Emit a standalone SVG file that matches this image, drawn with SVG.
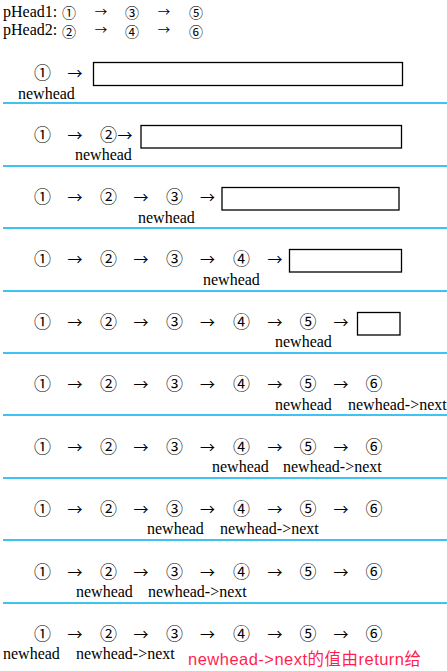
<svg xmlns="http://www.w3.org/2000/svg" width="447" height="671" viewBox="0 0 447 671">
<style>
.t{font-family:"Liberation Serif","DejaVu Serif",serif;font-size:16px;fill:#000}
.n{font-family:"Noto Sans CJK SC","DejaVu Sans",sans-serif;font-size:17px;fill:#000;text-anchor:middle}
.ns{font-family:"Noto Sans CJK SC","DejaVu Sans",sans-serif;font-size:14px;fill:#000;text-anchor:middle}
.a{font-family:"Noto Sans CJK SC",sans-serif;font-size:15px;fill:#000;text-anchor:middle}
.ah{font-family:"Noto Sans CJK SC",sans-serif;font-size:12.5px;fill:#000;text-anchor:middle}
.sep{stroke:#00AEEF;stroke-width:1.5}
.box{fill:#fff;stroke:#000;stroke-width:1.3}
.red{font-family:"Liberation Sans","Noto Sans CJK SC",sans-serif;font-size:16.5px;fill:#FF1F4F}
</style>
<rect width="447" height="671" fill="#fff"/>
<g id="header">
<text class="t" x="3" y="17">pHead1:</text>
<text class="t" x="3" y="35">pHead2:</text>
<text class="ns" x="69" y="18">①</text><text class="ah" x="101" y="17">→</text><text class="ns" x="132" y="18">③</text><text class="ah" x="164" y="17">→</text><text class="ns" x="196" y="18">⑤</text>
<text class="ns" x="69" y="37">②</text><text class="ah" x="101" y="35">→</text><text class="ns" x="132" y="37">④</text><text class="ah" x="164" y="35">→</text><text class="ns" x="196" y="37">⑥</text>
</g>
<g id="separators">
<line class="sep" x1="3" y1="103" x2="447" y2="103"/>
<line class="sep" x1="3" y1="166" x2="447" y2="166"/>
<line class="sep" x1="3" y1="228" x2="447" y2="228"/>
<line class="sep" x1="3" y1="291" x2="447" y2="291"/>
<line class="sep" x1="3" y1="353" x2="447" y2="353"/>
<line class="sep" x1="3" y1="415" x2="447" y2="415"/>
<line class="sep" x1="3" y1="478" x2="447" y2="478"/>
<line class="sep" x1="3" y1="540" x2="447" y2="540"/>
<line class="sep" x1="3" y1="603" x2="447" y2="603"/>
</g>
<g id="row1">
<g id="r1n1"><text class="n" x="42.5" y="79">①</text></g>
<g id="r1box"><rect class="box" x="93.5" y="62.5" width="309" height="23"/></g>
<g id="r1conn"><text class="a" x="75" y="79">→</text></g>
<text class="t" x="18" y="99">newhead</text>
</g>
<g id="row2">
<g id="r2n1"><text class="n" x="42.5" y="141">①</text></g>
<g id="r2n2"><text class="n" x="108.5" y="141">②</text></g>
<g id="r2box"><rect class="box" x="141" y="125.5" width="260.5" height="22.5"/></g>
<g id="r2conn"><text class="a" x="75" y="141">→</text><text class="a" x="125" y="141">→</text></g>
<text class="t" x="75" y="160">newhead</text>
</g>
<g id="row3">
<g id="r3n1"><text class="n" x="42.5" y="203">①</text></g>
<g id="r3n2"><text class="n" x="108.5" y="203">②</text></g>
<g id="r3n3"><text class="n" x="174.5" y="203">③</text></g>
<g id="r3box"><rect class="box" x="222" y="187.5" width="177" height="22.5"/></g>
<g id="r3conn"><text class="a" x="75" y="203">→</text><text class="a" x="141" y="203">→</text><text class="a" x="207.5" y="203">→</text></g>
<text class="t" x="138" y="223">newhead</text>
</g>
<g id="row4">
<g id="r4n1"><text class="n" x="42.5" y="265">①</text></g>
<g id="r4n2"><text class="n" x="108.5" y="265">②</text></g>
<g id="r4n3"><text class="n" x="174.5" y="265">③</text></g>
<g id="r4n4"><text class="n" x="241.5" y="265">④</text></g>
<g id="r4box"><rect class="box" x="289.5" y="249.5" width="112" height="22.5"/></g>
<g id="r4conn"><text class="a" x="75" y="265">→</text><text class="a" x="141" y="265">→</text><text class="a" x="207.5" y="265">→</text><text class="a" x="275" y="265">→</text></g>
<text class="t" x="203" y="285">newhead</text>
</g>
<g id="row5">
<g id="r5n1"><text class="n" x="42.5" y="328">①</text></g>
<g id="r5n2"><text class="n" x="108.5" y="328">②</text></g>
<g id="r5n3"><text class="n" x="174.5" y="328">③</text></g>
<g id="r5n4"><text class="n" x="241.5" y="328">④</text></g>
<g id="r5n5"><text class="n" x="308" y="328">⑤</text></g>
<g id="r5box"><rect class="box" x="357.5" y="312.5" width="42.5" height="22.5"/></g>
<g id="r5conn"><text class="a" x="75" y="328">→</text><text class="a" x="141" y="328">→</text><text class="a" x="207.5" y="328">→</text><text class="a" x="275" y="328">→</text><text class="a" x="341" y="328">→</text></g>
<text class="t" x="275" y="347">newhead</text>
</g>
<g id="row6">
<g id="r6n1"><text class="n" x="42.5" y="390">①</text></g>
<g id="r6n2"><text class="n" x="108.5" y="390">②</text></g>
<g id="r6n3"><text class="n" x="174.5" y="390">③</text></g>
<g id="r6n4"><text class="n" x="241.5" y="390">④</text></g>
<g id="r6n5"><text class="n" x="308" y="390">⑤</text></g>
<g id="r6n6"><text class="n" x="374" y="390">⑥</text></g>
<g id="r6conn"><text class="a" x="75" y="390">→</text><text class="a" x="141" y="390">→</text><text class="a" x="207.5" y="390">→</text><text class="a" x="275" y="390">→</text><text class="a" x="341" y="390">→</text></g>
<text class="t" x="275" y="410">newhead</text>
<text class="t" x="348" y="410">newhead-&gt;next</text>
</g>
<g id="row7">
<g id="r7n1"><text class="n" x="42.5" y="453">①</text></g>
<g id="r7n2"><text class="n" x="108.5" y="453">②</text></g>
<g id="r7n3"><text class="n" x="174.5" y="453">③</text></g>
<g id="r7n4"><text class="n" x="241.5" y="453">④</text></g>
<g id="r7n5"><text class="n" x="308" y="453">⑤</text></g>
<g id="r7n6"><text class="n" x="374" y="453">⑥</text></g>
<g id="r7conn"><text class="a" x="75" y="453">→</text><text class="a" x="141" y="453">→</text><text class="a" x="207.5" y="453">→</text><text class="a" x="275" y="453">→</text><text class="a" x="341" y="453">→</text></g>
<text class="t" x="212" y="472">newhead</text>
<text class="t" x="283" y="472">newhead-&gt;next</text>
</g>
<g id="row8">
<g id="r8n1"><text class="n" x="42.5" y="515">①</text></g>
<g id="r8n2"><text class="n" x="108.5" y="515">②</text></g>
<g id="r8n3"><text class="n" x="174.5" y="515">③</text></g>
<g id="r8n4"><text class="n" x="241.5" y="515">④</text></g>
<g id="r8n5"><text class="n" x="308" y="515">⑤</text></g>
<g id="r8n6"><text class="n" x="374" y="515">⑥</text></g>
<g id="r8conn"><text class="a" x="75" y="515">→</text><text class="a" x="141" y="515">→</text><text class="a" x="207.5" y="515">→</text><text class="a" x="275" y="515">→</text><text class="a" x="341" y="515">→</text></g>
<text class="t" x="147" y="534">newhead</text>
<text class="t" x="220" y="534">newhead-&gt;next</text>
</g>
<g id="row9">
<g id="r9n1"><text class="n" x="42.5" y="578">①</text></g>
<g id="r9n2"><text class="n" x="108.5" y="578">②</text></g>
<g id="r9n3"><text class="n" x="174.5" y="578">③</text></g>
<g id="r9n4"><text class="n" x="241.5" y="578">④</text></g>
<g id="r9n5"><text class="n" x="308" y="578">⑤</text></g>
<g id="r9n6"><text class="n" x="374" y="578">⑥</text></g>
<g id="r9conn"><text class="a" x="75" y="578">→</text><text class="a" x="141" y="578">→</text><text class="a" x="207.5" y="578">→</text><text class="a" x="275" y="578">→</text><text class="a" x="341" y="578">→</text></g>
<text class="t" x="76" y="597">newhead</text>
<text class="t" x="148" y="597">newhead-&gt;next</text>
</g>
<g id="row10">
<g id="r10n1"><text class="n" x="42.5" y="640">①</text></g>
<g id="r10n2"><text class="n" x="108.5" y="640">②</text></g>
<g id="r10n3"><text class="n" x="174.5" y="640">③</text></g>
<g id="r10n4"><text class="n" x="241.5" y="640">④</text></g>
<g id="r10n5"><text class="n" x="308" y="640">⑤</text></g>
<g id="r10n6"><text class="n" x="374" y="640">⑥</text></g>
<g id="r10conn"><text class="a" x="75" y="640">→</text><text class="a" x="141" y="640">→</text><text class="a" x="207.5" y="640">→</text><text class="a" x="275" y="640">→</text><text class="a" x="341" y="640">→</text></g>
<text class="t" x="3" y="659">newhead</text>
<text class="t" x="76" y="659">newhead-&gt;next</text>
<text class="red" x="188" y="665" textLength="233" lengthAdjust="spacing">newhead-&gt;next的值由return给</text>
</g>
</svg>
